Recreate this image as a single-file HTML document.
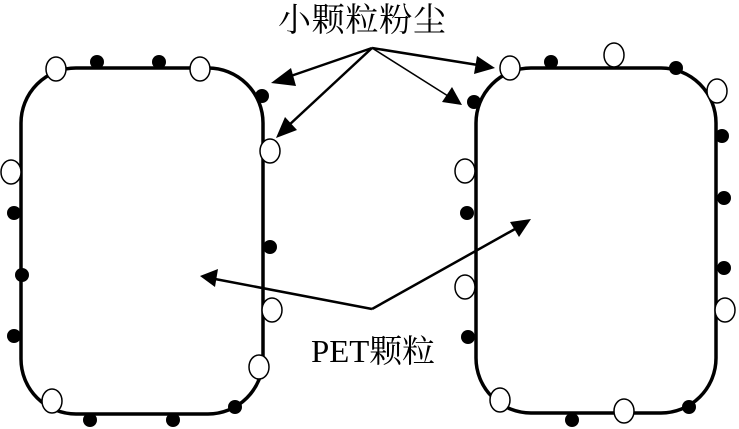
<!DOCTYPE html>
<html><head><meta charset="utf-8"><style>
html,body{margin:0;padding:0;background:#fff;width:739px;height:429px;overflow:hidden}
</style></head><body>
<svg width="739" height="429" viewBox="0 0 739 429" xmlns="http://www.w3.org/2000/svg">
<g fill="none" stroke="#000" stroke-width="3.5">
<rect x="21" y="68" width="242" height="346" rx="55" ry="55"/>
<rect x="476" y="68" width="240" height="345" rx="55" ry="55"/>
</g>
<g stroke="#000" stroke-width="2.5">
<line x1="372" y1="48" x2="285" y2="78"/>
<line x1="372" y1="48" x2="288" y2="126"/>
<line x1="372" y1="48" x2="478" y2="65"/>
<line x1="372" y1="48" x2="448" y2="96" stroke-width="1.5"/>
<line x1="372" y1="309" x2="215" y2="279"/>
<line x1="372" y1="309" x2="515" y2="229"/>
</g>
<g fill="#000">
<polygon points="271,83 291,68 296,86"/>
<polygon points="276,138 285,117 297,130"/>
<polygon points="495,68 474,74 477,56"/>
<polygon points="462,105 442,102 452,87"/>
<polygon points="200,276 218,269 215,287"/>
<polygon points="531,219 519,237 510,222"/>
</g>
<g fill="#000">
<circle cx="97" cy="62" r="7"/><circle cx="159" cy="62" r="7"/><circle cx="262" cy="96" r="7"/>
<circle cx="14" cy="213" r="7"/><circle cx="22" cy="275" r="7"/><circle cx="270" cy="247" r="7"/>
<circle cx="14" cy="336" r="7"/><circle cx="90" cy="420" r="7"/><circle cx="173" cy="420" r="7"/>
<circle cx="235" cy="407" r="7"/>
<circle cx="551" cy="62" r="7"/><circle cx="676" cy="68" r="7"/><circle cx="474" cy="102" r="7"/>
<circle cx="722" cy="136" r="7"/><circle cx="467" cy="213" r="7"/><circle cx="724" cy="198" r="7"/>
<circle cx="724" cy="268" r="7"/><circle cx="468" cy="337" r="7"/><circle cx="572" cy="420" r="7"/>
<circle cx="689" cy="407" r="7"/>
</g>
<g fill="#fff" stroke="#000" stroke-width="1.5">
<ellipse cx="56" cy="69" rx="10" ry="12"/><ellipse cx="200" cy="69" rx="10" ry="12"/>
<ellipse cx="270" cy="151" rx="10" ry="12"/><ellipse cx="11" cy="172" rx="10" ry="12"/>
<ellipse cx="272" cy="310" rx="10" ry="12"/><ellipse cx="259" cy="367" rx="10" ry="12"/>
<ellipse cx="52" cy="401" rx="10" ry="12"/>
<ellipse cx="510" cy="68" rx="10" ry="12"/><ellipse cx="614" cy="55" rx="10" ry="12"/>
<ellipse cx="717" cy="91" rx="10" ry="12"/><ellipse cx="465" cy="171" rx="10" ry="12"/>
<ellipse cx="465" cy="287" rx="10" ry="12"/><ellipse cx="725" cy="310" rx="10" ry="12"/>
<ellipse cx="500" cy="400" rx="10" ry="12"/><ellipse cx="624" cy="411" rx="10" ry="12"/>
</g>
<text x="278" y="31" font-size="33" font-family="'Liberation Serif','Noto Serif CJK SC',serif" textLength="168">小颗粒粉尘</text>
<text x="311" y="362" font-size="32" font-family="'Liberation Serif','Noto Serif CJK SC',serif" textLength="124" lengthAdjust="spacingAndGlyphs">PET颗粒</text>
</svg>
</body></html>
